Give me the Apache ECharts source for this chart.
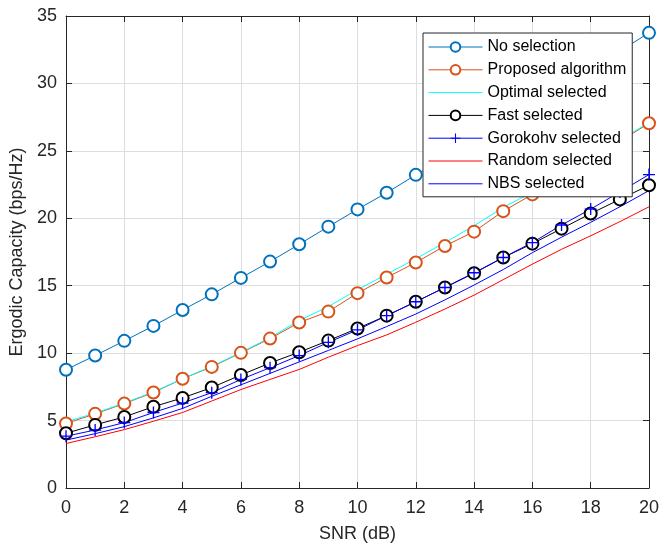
<!DOCTYPE html>
<html>
<head>
<meta charset="utf-8">
<script src="https://cdn.jsdelivr.net/npm/echarts@6/dist/echarts.min.js"></script>
<style>
  html, body { margin: 0; padding: 0; background: #fff; }
  #chart { width: 662px; height: 548px; }
</style>
</head>
<body>
<div id="chart"></div>
<script>
// SNR points (dB)
const snr = [0, 1, 2, 3, 4, 5, 6, 7, 8, 9, 10, 11, 12, 13, 14, 15, 16, 17, 18, 19, 20];

// Ergodic capacity (bps/Hz) per antenna-selection scheme
const noSelection = [8.77, 9.82, 10.91, 12.02, 13.2, 14.36, 15.58, 16.79, 18.07, 19.38, 20.66, 21.89, 23.22, 24.5, 25.8, 27.1, 28.4, 29.75, 31.05, 32.4, 33.75];
const proposed    = [4.78, 5.5, 6.26, 7.08, 8.1, 8.98, 10.02, 11.08, 12.27, 13.08, 14.45, 15.61, 16.72, 17.95, 19.01, 20.53, 21.77, 23.1, 24.4, 25.7, 27.05];
const optimal     = [4.9, 5.55, 6.3, 7.12, 8.1, 9.02, 10.05, 11.15, 12.42, 13.45, 14.7, 15.85, 17.0, 18.2, 19.45, 20.8, 21.95, 23.2, 24.5, 25.8, 27.1];
const fast        = [4.06, 4.68, 5.27, 6.03, 6.68, 7.45, 8.38, 9.27, 10.07, 10.93, 11.83, 12.78, 13.81, 14.87, 15.93, 17.09, 18.12, 19.23, 20.35, 21.4, 22.45];
const gorokohv    = [3.84, 4.3, 4.85, 5.6, 6.3, 7.07, 8.05, 8.92, 9.82, 10.8, 11.72, 12.78, 13.81, 14.87, 15.96, 17.09, 18.2, 19.5, 20.68, 21.95, 23.24];
const randomSel   = [3.3, 3.8, 4.33, 4.95, 5.6, 6.45, 7.3, 8.05, 8.79, 9.7, 10.56, 11.35, 12.29, 13.27, 14.3, 15.45, 16.6, 17.7, 18.7, 19.75, 20.85];
const nbs         = [3.55, 4.03, 4.55, 5.2, 5.9, 6.8, 7.65, 8.5, 9.35, 10.2, 11.06, 11.97, 12.9, 13.95, 15.05, 16.2, 17.45, 18.6, 19.7, 20.85, 22.05];

const seriesNames = ['No selection', 'Proposed algorithm', 'Optimal selected', 'Fast selected', 'Gorokohv selected', 'Random selected', 'NBS selected'];
// schemes drawn as plain lines (no markers)
const plainLines = ['Optimal selected', 'Random selected', 'NBS selected'];

const xTicks = { min: 0, max: 20, interval: 2 };
const yTicks = { min: 0, max: 35, interval: 5 };

const FONT = 'Liberation Sans, Arial, Helvetica, sans-serif';
const AXIS_COLOR = '#262626';
const PLUS = 'path://M4.45,0H5.55V4.45H10V5.55H5.55V10H4.45V5.55H0V4.45H4.45Z';

function pairs(ys) { return snr.map((x, i) => [x, ys[i]]); }

function lineSeries(name, ys, color, symbol, symbolSize) {
  const s = {
    name: name,
    type: 'line',
    data: pairs(ys),
    color: color,
    lineStyle: { color: color, width: 1 },
    symbol: symbol || 'none',
    showSymbol: !!symbol,
    symbolSize: symbolSize || 11,
    animation: false,
    emphasis: { disabled: true }
  };
  if (symbol === 'emptyCircle') {
    s.itemStyle = { color: color, borderColor: color, borderWidth: 1 };
  } else if (symbol) {
    s.itemStyle = { color: color, borderWidth: 0 };
  }
  return s;
}

const chart = echarts.init(document.getElementById('chart'), null, { renderer: 'canvas' });

const baseAxis = {
  axisLine: { show: true, onZero: false, lineStyle: { color: AXIS_COLOR, width: 1 } },
  axisTick: { show: true, inside: true, length: 6, lineStyle: { color: AXIS_COLOR } },
  axisLabel: { color: AXIS_COLOR, fontSize: 18, fontFamily: FONT }
};

const legendData = seriesNames.map(n => plainLines.indexOf(n) >= 0
  ? { name: n, itemStyle: { opacity: 0 } }
  : { name: n });

chart.setOption({
  backgroundColor: '#ffffff',
  animation: false,
  textStyle: { fontFamily: FONT },
  grid: { left: 66, right: 10, top: 16, bottom: 58, containLabel: false },
  legend: {
    orient: 'vertical',
    left: 423,
    top: 33,
    data: legendData,
    backgroundColor: '#ffffff',
    borderColor: AXIS_COLOR,
    borderWidth: 1,
    borderRadius: 0,
    padding: [6, 6, 5, 5],
    itemWidth: 54,
    itemHeight: 12,
    itemGap: 6.8,
    lineStyle: { width: 1 },
    textStyle: { fontSize: 16, color: '#000', fontFamily: FONT },
    selectedMode: false
  },
  xAxis: [
    Object.assign({}, baseAxis, {
      type: 'value', position: 'bottom',
      min: xTicks.min, max: xTicks.max, interval: xTicks.interval,
      name: 'SNR (dB)', nameLocation: 'middle', nameGap: 37,
      nameTextStyle: { fontSize: 18, color: AXIS_COLOR, fontFamily: FONT },
      axisLabel: Object.assign({}, baseAxis.axisLabel, { margin: 11 }),
      splitLine: { show: true, lineStyle: { color: '#dedede', width: 1 } }
    }),
    Object.assign({}, baseAxis, {
      type: 'value', position: 'top',
      min: xTicks.min, max: xTicks.max, interval: xTicks.interval,
      axisLabel: { show: false }, splitLine: { show: false }
    })
  ],
  yAxis: [
    Object.assign({}, baseAxis, {
      type: 'value', position: 'left',
      min: yTicks.min, max: yTicks.max, interval: yTicks.interval,
      name: 'Ergodic Capacity (bps/Hz)', nameLocation: 'middle', nameGap: 33,
      nameTextStyle: { fontSize: 18, color: AXIS_COLOR, fontFamily: FONT },
      axisLabel: Object.assign({}, baseAxis.axisLabel, { margin: 9 }),
      splitLine: { show: true, lineStyle: { color: '#dedede', width: 1 } }
    }),
    Object.assign({}, baseAxis, {
      type: 'value', position: 'right',
      min: yTicks.min, max: yTicks.max, interval: yTicks.interval,
      axisLabel: { show: false }, splitLine: { show: false }
    })
  ],
  series: [
    lineSeries(seriesNames[0], noSelection, '#0072BD', 'emptyCircle', 12),
    lineSeries(seriesNames[1], proposed, '#D95319', 'emptyCircle', 12),
    lineSeries(seriesNames[2], optimal, '#00FFFF'),
    lineSeries(seriesNames[3], fast, '#000000', 'emptyCircle', 12),
    lineSeries(seriesNames[4], gorokohv, '#0000FF', PLUS, 12),
    lineSeries(seriesNames[5], randomSel, '#FF0000'),
    lineSeries(seriesNames[6], nbs, '#0000FF')
  ]
});
</script>
</body>
</html>
